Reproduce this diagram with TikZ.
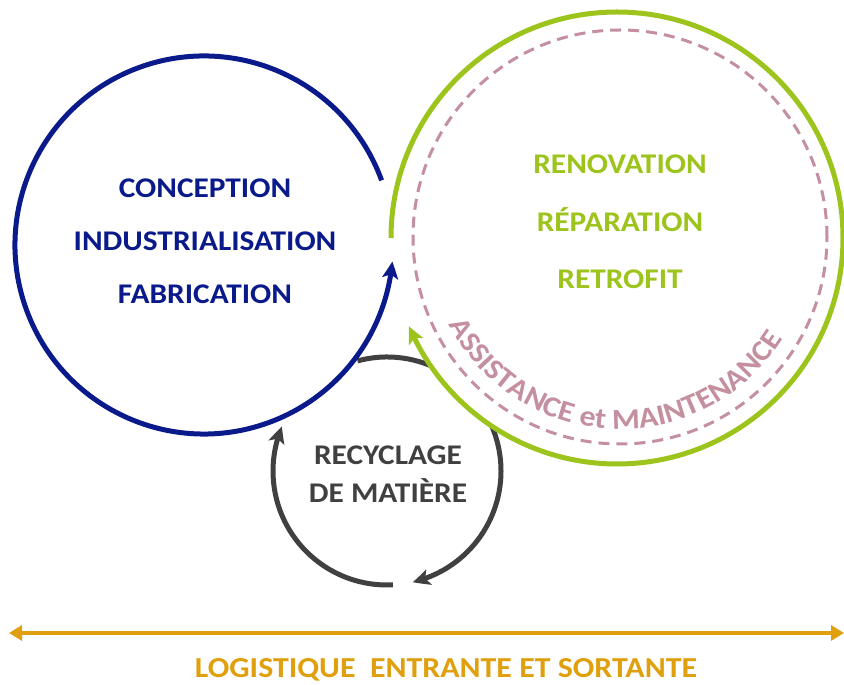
\documentclass[tikz,border=0pt]{standalone}
\usepackage{fontspec}
\setmainfont{Carlito}[FakeStretch=1.1]
\usepackage{tikz}
\usetikzlibrary{positioning,arrows.meta,bending,calc,decorations.text}
\definecolor{navy}{HTML}{0B1A8A}
\definecolor{leaf}{HTML}{9DC41C}
\definecolor{mauve}{HTML}{C4909F}
\definecolor{coal}{HTML}{404040}
\definecolor{gold}{HTML}{E0A00E}
\newcommand{\labfont}[1]{\fontsize{28.5}{#1}\selectfont\bfseries}
\newcommand{\bandfont}{\fontsize{29}{30}\selectfont\bfseries}

\begin{document}
\begin{tikzpicture}[x=1pt, y=1pt,
                    every node/.style={align=center, inner sep=0pt},
                    ring/.style={line width=5pt},
                    tip/.style={-{Stealth[length=17pt, width=16pt, inset=4pt, bend]}}]
    \useasboundingbox (0,0) rectangle (844,685);
    \coordinate (cblue) at (204,440);
    \coordinate (cgreen) at (617,447);
    \coordinate (cdash) at (620,448);
    \coordinate (cgray) at (387,214);
    % recycling loop, partly hidden by the green circle
    \draw[ring, coal, tip] ($(cgray)+(273:114)$) arc[start angle=273, end angle=157, radius=114];
    \draw[ring, coal, tip] ($(cgray)+(105:114)$) arc[start angle=105, end angle=-77, radius=114];
    \fill[white] (cgreen) circle[radius=226];
    % main circles
    \draw[ring, navy, tip] ($(cblue)+(20:189)$) arc[start angle=20, end angle=355, radius=189];
    \draw[ring, leaf, tip] ($(cgreen)+(180:226)$) arc[start angle=180, end angle=-157, radius=226];
    \draw[mauve, line width=3pt, dash pattern=on 11pt off 7pt] (cdash) circle[radius=207];
    \path[decorate, decoration={text along path, text align=center,
          text={|\bandfont\color{mauve}|ASSISTANCE et MAINTENANCE}}]
          ($(cdash)+(200:192)$) arc[start angle=200, end angle=335, radius=192];
    % labels
    \node (design) at (205,444) [text=navy, font=\labfont{53}] {CONCEPTION\\INDUSTRIALISATION\\FABRICATION};
    \node (repair) at (620,463) [text=leaf, font=\labfont{57.5}] {RENOVATION\\RÉPARATION\\RETROFIT};
    \node (recycle) at (388,211) [text=coal, font=\labfont{38}] {RECYCLAGE\\DE MATIÈRE};
    % logistics
    \coordinate (lend) at (9,52);
    \coordinate (rend) at (844,52);
    \draw[gold, line width=4pt, {Triangle[length=13pt,width=15pt]}-{Triangle[length=13pt,width=15pt]}] (lend) -- (rend);
    \node (logistics) at (446,7.5) [anchor=base, text=gold, font=\bandfont] {LOGISTIQUE\ \ ENTRANTE ET SORTANTE};
\end{tikzpicture}
\end{document}
